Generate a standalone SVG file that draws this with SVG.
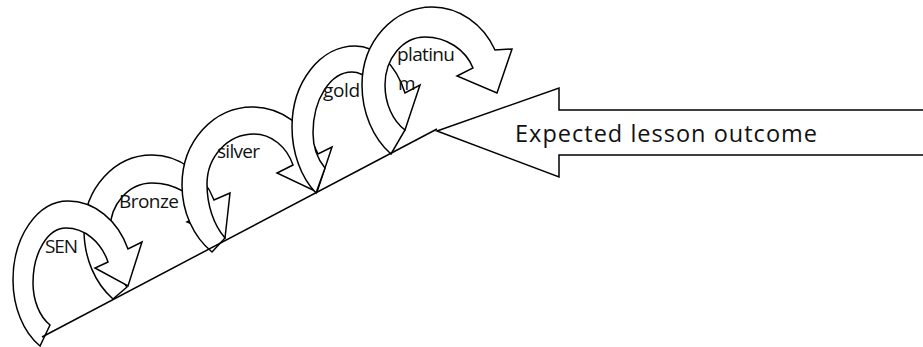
<svg xmlns="http://www.w3.org/2000/svg" width="923" height="347" viewBox="0 0 923 347">
<style>
.arw{fill:#fff;stroke:#000;stroke-width:1.5;stroke-linejoin:miter}
.ln{fill:none;stroke:#000;stroke-width:1.5}
.lbl{font-family:"Open Sans","Noto Sans","Liberation Sans",sans-serif;font-size:19px;fill:#111}
.big{font-family:"Open Sans","Noto Sans","Liberation Sans",sans-serif;font-size:23.5px;fill:#111}
</style>
<rect width="923" height="347" fill="#fff"/>
<g id="bronze">
<path class="arw" d="M 113 299 A 68 84.2 0 0 1 84 230 A 68 75 0 0 1 152 155 A 67.6 75 0 0 1 214 200 L 230 193 L 225 238 L 187 222 L 203 213 A 54.7 47 0 0 0 152 183 A 42 47 0 0 0 110 230 A 42 70.9 0 0 0 127 287 Z"/>
<text class="lbl" x="119" y="208" textLength="60">Bronze</text>
</g>
<g id="sen">
<path class="arw" d="M 40 346 A 55 76.7 0 0 1 13 280 A 55 79 0 0 1 68 201 A 65.2 79 0 0 1 128 249 L 142 242 L 128 286 L 95 268 L 108 262 A 45.5 55 0 0 0 66 228 A 33 55 0 0 0 33 283 A 33 48 0 0 0 50 325 Z"/>
<text class="lbl" x="45" y="253" textLength="33">SEN</text>
</g>
<g id="silver">
<path class="arw" d="M 212 252 A 70 81.7 0 0 1 182 185 A 70 78 0 0 1 252 107 A 71.9 78 0 0 1 318 154 L 332 147 L 317 192 L 277 173 L 293 165 A 42.2 50 0 0 0 254 134 A 47 50 0 0 0 207 184 A 47 68.6 0 0 0 225 238 Z"/>
<text class="lbl" x="217" y="158" textLength="43">silver</text>
</g>
<g id="gold">
<path class="arw" d="M 316 193 A 63 84 0 0 1 292 127 A 63 81 0 0 1 355 46 A 55.1 81 0 0 1 405 93 L 420 85 L 405 130 L 368 112 L 383 105 A 34.9 61 0 0 0 352 72 A 39 61 0 0 0 313 133 A 39 48.5 0 0 0 325 168 Z"/>
<text class="lbl" x="323" y="97" textLength="37">gold</text>
</g>
<g id="platinum">
<path class="arw" d="M 391 154 A 70 85.1 0 0 1 362 85 A 70 78 0 0 1 432 7 A 70.5 78 0 0 1 495 50 L 512 49 L 497 93 L 457 76 L 473 68 A 51.3 48 0 0 0 425 37 A 40 48 0 0 0 385 85 A 40 52 0 0 0 405 130 Z"/>
<text class="lbl" x="397" y="61" textLength="58">platinu</text>
<text class="lbl" x="398" y="90" textLength="15">m</text>
</g>
<g id="connectors">
<path class="ln" d="M 42 337 L 437 129"/>
</g>
<g id="outcome">
<path class="arw" d="M 437 131 L 559 88 L 559 110 L 930 110 L 930 155 L 559 155 L 559 177 Z"/>
<text class="big" x="515" y="142" textLength="302">Expected lesson outcome</text>
</g>
</svg>
